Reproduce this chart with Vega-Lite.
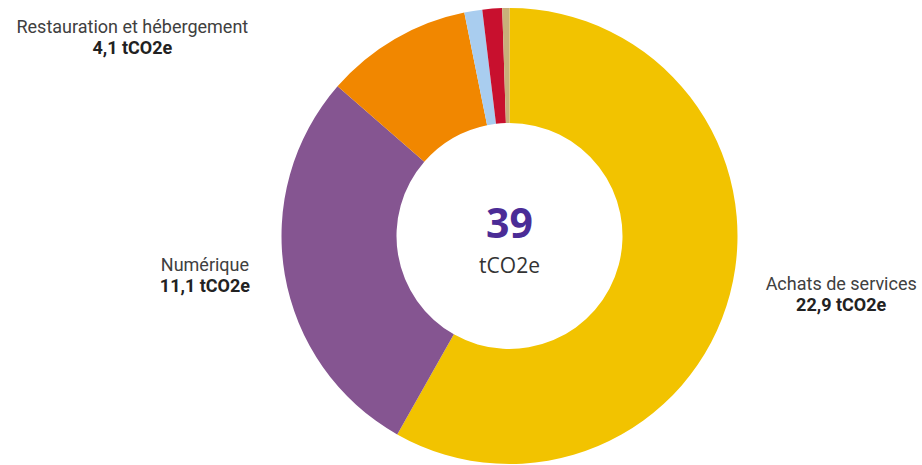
{
  "$schema": "https://vega.github.io/schema/vega-lite/v6.json",
  "autosize": {"type": "none"},
  "width": 819,
  "height": 456,
  "padding": {"left": 100, "top": 8, "right": 3, "bottom": 1},
  "background": "white",
  "config": {
    "view": {"stroke": null},
    "locale": {"number": {"decimal": ",", "thousands": " ", "grouping": [3], "currency": ["", " tCO2e"]}},
    "text": {"font": "Roboto"}
  },
  "data": {
    "values": [
      {"category": "Achats de services", "value": 22.9, "ord": 1},
      {"category": "Numérique", "value": 11.1, "ord": 2},
      {"category": "Restauration et hébergement", "value": 4.1, "ord": 3},
      {"category": "Déplacements", "value": 0.5, "ord": 4},
      {"category": "Énergie", "value": 0.55, "ord": 5},
      {"category": "Autres", "value": 0.2, "ord": 6}
    ]
  },
  "layer": [
    {
      "mark": {"type": "arc", "outerRadius": 228, "innerRadius": 113, "stroke": null},
      "encoding": {
        "theta": {"field": "value", "type": "quantitative", "stack": true},
        "order": {"field": "ord", "type": "quantitative"},
        "color": {
          "field": "category", "type": "nominal", "legend": null,
          "scale": {
            "domain": ["Achats de services", "Numérique", "Restauration et hébergement", "Déplacements", "Énergie", "Autres"],
            "range": ["#F2C300", "#855591", "#F18700", "#A9CDEF", "#C8102E", "#C8B07A"]
          }
        }
      }
    },
    {
      "mark": {"type": "text", "radius": 343, "dy": -38, "fontSize": 18, "color": "#404040", "baseline": "middle", "align": "center"},
      "encoding": {
        "theta": {"field": "value", "type": "quantitative", "stack": true},
        "order": {"field": "ord", "type": "quantitative"},
        "text": {"condition": {"test": "datum.category !== 'Achats de services'", "value": ""}, "field": "category", "type": "nominal"}
      }
    },
    {
      "mark": {"type": "text", "radius": 343, "dy": -17, "fontSize": 18, "fontWeight": "bold", "color": "#222222", "baseline": "middle", "align": "center"},
      "encoding": {
        "theta": {"field": "value", "type": "quantitative", "stack": true},
        "order": {"field": "ord", "type": "quantitative"},
        "text": {"condition": {"test": "datum.category !== 'Achats de services'", "value": ""}, "field": "value", "type": "quantitative", "format": "$.1f"}
      }
    },
    {
      "mark": {"type": "text", "radius": 309, "dy": -22, "fontSize": 18, "color": "#404040", "baseline": "middle", "align": "center"},
      "encoding": {
        "theta": {"field": "value", "type": "quantitative", "stack": true},
        "order": {"field": "ord", "type": "quantitative"},
        "text": {"condition": {"test": "datum.category !== 'Numérique'", "value": ""}, "field": "category", "type": "nominal"}
      }
    },
    {
      "mark": {"type": "text", "radius": 309, "dy": -1, "fontSize": 18, "fontWeight": "bold", "color": "#222222", "baseline": "middle", "align": "center"},
      "encoding": {
        "theta": {"field": "value", "type": "quantitative", "stack": true},
        "order": {"field": "ord", "type": "quantitative"},
        "text": {"condition": {"test": "datum.category !== 'Numérique'", "value": ""}, "field": "value", "type": "quantitative", "format": "$.1f"}
      }
    },
    {
      "mark": {"type": "text", "radius": 229, "dx": -262, "dy": -10, "fontSize": 18, "color": "#404040", "baseline": "middle", "align": "center"},
      "encoding": {
        "theta": {"field": "value", "type": "quantitative", "stack": true},
        "order": {"field": "ord", "type": "quantitative"},
        "text": {"condition": {"test": "datum.category !== 'Restauration et hébergement'", "value": ""}, "field": "category", "type": "nominal"}
      }
    },
    {
      "mark": {"type": "text", "radius": 229, "dx": -262, "dy": 11, "fontSize": 18, "fontWeight": "bold", "color": "#222222", "baseline": "middle", "align": "center"},
      "encoding": {
        "theta": {"field": "value", "type": "quantitative", "stack": true},
        "order": {"field": "ord", "type": "quantitative"},
        "text": {"condition": {"test": "datum.category !== 'Restauration et hébergement'", "value": ""}, "field": "value", "type": "quantitative", "format": "$.1f"}
      }
    },
    {
      "transform": [{"aggregate": [{"op": "sum", "field": "value", "as": "total"}]}],
      "mark": {"type": "text", "font": "Open Sans", "dy": -10, "fontSize": 41, "fontWeight": "bold", "color": "#4B2C96", "baseline": "middle", "align": "center"},
      "encoding": {
        "text": {"field": "total", "type": "quantitative", "format": ".0f"}
      }
    },
    {
      "transform": [{"aggregate": [{"op": "sum", "field": "value", "as": "total"}]}],
      "mark": {"type": "text", "font": "Open Sans", "dy": 31, "fontSize": 21, "color": "#333333", "baseline": "middle", "align": "center"},
      "encoding": {
        "text": {"value": "tCO2e"}
      }
    }
  ]
}
